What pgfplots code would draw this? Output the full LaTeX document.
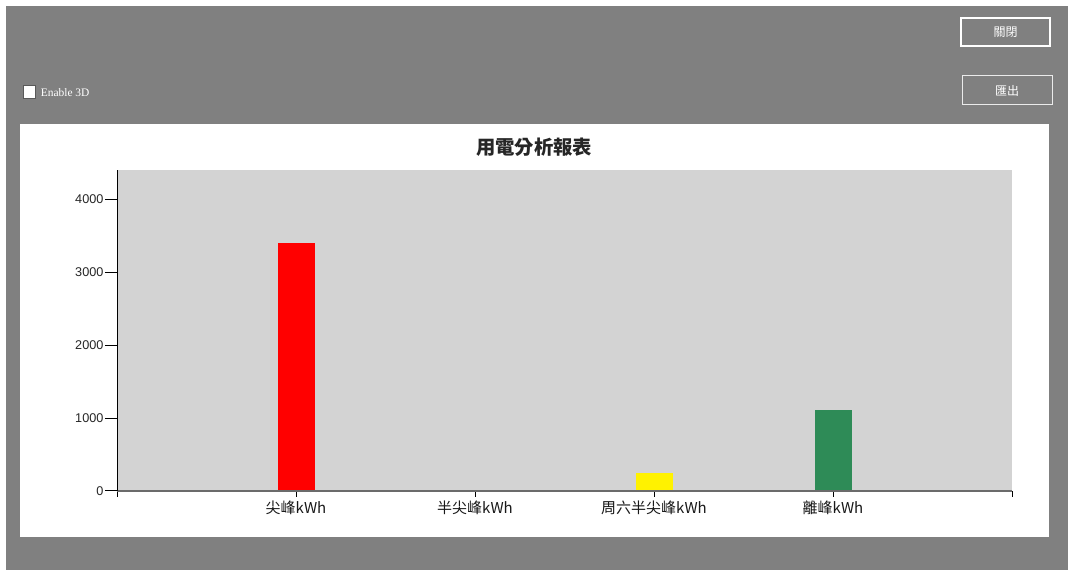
\documentclass[border=0pt]{standalone}
\usepackage{fontspec}
\setmainfont{Liberation Sans}
\newfontfamily\cjk{Noto Sans CJK TC}
\newfontfamily\formserif{Liberation Serif}
\usepackage{pgfplots}
\pgfplotsset{compat=1.18}
\definecolor{formgray}{HTML}{808080}
\definecolor{plotbg}{HTML}{D3D3D3}
\definecolor{seagreen}{RGB}{46,139,87}
\definecolor{axisgray}{HTML}{6B6B6B}
\begin{document}
\begin{tikzpicture}[x=0.75pt,y=0.75pt]
% form background
\fill[white] (0,0) rectangle (1068,570);
\fill[formgray] (6,0) rectangle (1068,564);
% buttons
\draw[white, line width=1.5pt] (961,524) rectangle (1050,552);
\node[text=white, font=\cjk\fontsize{9}{11}\selectfont] at (1005.5,538) {關閉};
\draw[white!92!black, line width=0.75pt] (962,465) rectangle (1052,494);
\node[text=white, font=\cjk\fontsize{9}{11}\selectfont] at (1007,479.5) {匯出};
% checkbox
\draw[fill=white, draw=black!65, line width=0.75pt] (23,471) rectangle (35,484);
\node[anchor=west, text=white, inner sep=0pt, font=\formserif\fontsize{8.6}{10}\selectfont] at (40.5,477.5) {Enable 3D};
% chart panel
\fill[white] (20,33) rectangle (1049,446);
\node[font=\cjk\bfseries\fontsize{14.5}{17}\selectfont, text=black!85] at (534,423) {用電分析報表};
\begin{axis}[
  at={(87.75pt,59.25pt)}, anchor=south west,
  scale only axis, width=671.25pt, height=240.75pt,
  xmin=0, xmax=5, ymin=0, ymax=4400,
  axis x line*=bottom, axis y line*=left,
  axis line style={-},
  x axis line style={draw=axisgray, line width=1.1pt},
  y axis line style={draw=black, line width=0.75pt},
  axis background/.style={fill=plotbg},
  axis on top,
  xtick={0,1,2,3,4,5},
  xticklabels={,尖峰kWh,半尖峰kWh,周六半尖峰kWh,離峰kWh,},
  ytick={0,1000,2000,3000,4000},
  tick align=outside,
  major tick length=9pt,
  xtick style={/pgfplots/major tick length=4.5pt, draw=black, line width=0.75pt},
  ytick style={draw=black, line width=0.75pt},
  /pgf/number format/assume math mode=true,
  /pgf/number format/1000 sep={},
  yticklabel style={font=\fontsize{9.5}{11}\selectfont, text=black!85, inner sep=1pt},
  xticklabel style={font=\cjk\fontsize{11.25}{13}\selectfont, text=black!90, inner sep=1pt, yshift=3pt},
]
\addplot[ybar, bar width=27.75pt, bar shift=0pt, fill=red, draw=none] coordinates {(1,3400)};
\addplot[ybar, bar width=27.75pt, bar shift=0pt, fill=orange, draw=none] coordinates {(2,0)};
\addplot[ybar, bar width=27.75pt, bar shift=0pt, fill=yellow, draw=none] coordinates {(3,245)};
\addplot[ybar, bar width=27.75pt, bar shift=0pt, fill=seagreen, draw=none] coordinates {(4,1110)};
\end{axis}
\end{tikzpicture}
\end{document}
